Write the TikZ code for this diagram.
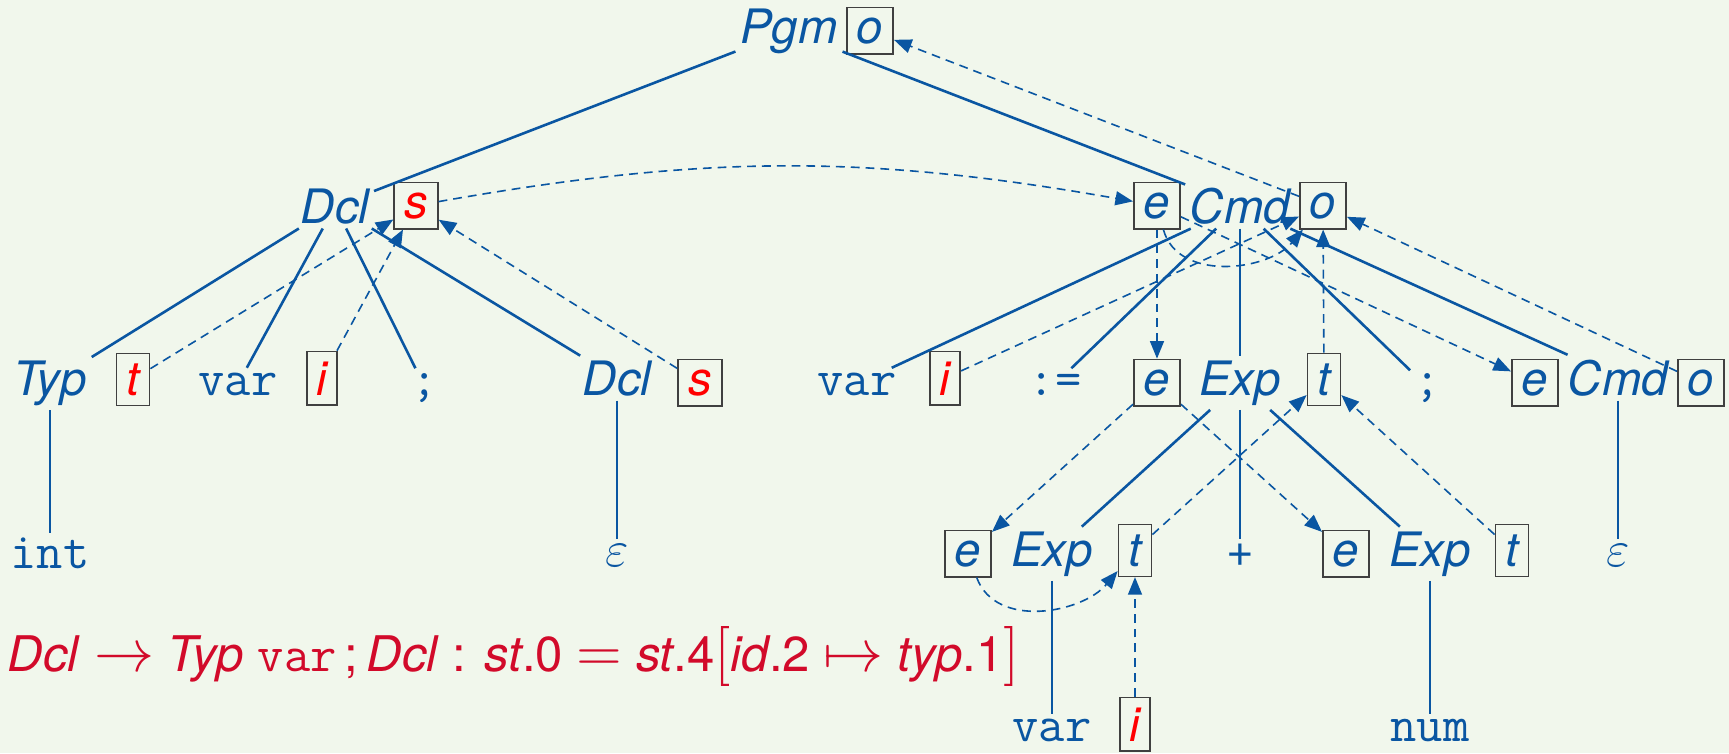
\RequirePackage{fix-cm}
\documentclass[tikz,border=0pt]{standalone}
\usepackage{fontspec}
\setmainfont{TeX Gyre Heros}[Scale=0.93]
\usepackage{tikz}
\usetikzlibrary{arrows.meta}
\definecolor{cTree}{HTML}{0A56A2}
\definecolor{cAttr}{HTML}{FF0000}
\definecolor{cRule}{HTML}{D20A2A}
\definecolor{cBack}{HTML}{F1F7EC}
\newcommand{\rsym}[1]{{\fontsize{15}{17}\selectfont$#1$}}

\begin{document}
\fontsize{12.75}{15}\selectfont
\begin{tikzpicture}[
    x=0.25pt, y=-0.25pt,
    every node/.style={anchor=base, inner sep=1pt, text=cTree},
    nterm/.style={font=\itshape},
    kw/.style={font=\ttfamily},
    attr/.style={draw=black!75, line width=0.4pt, fill=cBack,
                 inner sep=2.5pt, font=\itshape},
    rattr/.style={attr, text=cAttr},
    treeline/.style={draw=cTree, line width=0.65pt},
    depline/.style={draw=cTree, line width=0.4pt,
                    dash pattern=on 2.2pt off 1.5pt,
                    -{Triangle[length=4.4pt,width=3.5pt]}}
]
\useasboundingbox (0,0) rectangle (1729,753);
\fill[cBack] (0,0) rectangle (1729,753);

% --- root ---
\node[nterm] (pgm) at (789,43) {Pgm};
\node[attr] (pgmo) at (870,43) {o};

% --- declaration subtree ---
\node[nterm] (dcl) at (335,223) {Dcl};
\node[rattr] (dcls) at (416,218) {s};
\node[nterm] (typ) at (50,395) {Typ};
\node[rattr] (typt) at (133,395) {t};
\node[kw] (vara) at (238,395) {var};
\node[rattr] (varai) at (322,395) {i};
\node[kw] (semia) at (425,395) {;};
\node[nterm] (dclb) at (617,395) {Dcl};
\node[rattr] (dclbs) at (700,395) {s};
\node[kw] (int) at (50,568) {int};
\node (epsa) at (617,566) {$\varepsilon$};

% --- command subtree ---
\node[attr] (cmdae) at (1157,218) {e};
\node[nterm] (cmda) at (1240,223) {Cmd};
\node[attr] (cmdao) at (1323,218) {o};
\node[kw] (varb) at (857,395) {var};
\node[rattr] (varbi) at (945,395) {i};
\node[kw] (asgn) at (1055,395) {:=};
\node[attr] (expae) at (1157,395) {e};
\node[nterm] (expa) at (1240,395) {Exp};
\node[attr] (expat) at (1324,395) {t};
\node[kw] (semib) at (1428,395) {;};
\node[attr] (cmdbe) at (1535,395) {e};
\node[nterm] (cmdb) at (1618,395) {Cmd};
\node[attr] (cmdbo) at (1701,395) {o};
\node (epsb) at (1618,566) {$\varepsilon$};

% --- expression subtree ---
\node[attr] (expbe) at (968,566) {e};
\node[nterm] (expb) at (1052,566) {Exp};
\node[attr] (expbt) at (1135,566) {t};
\node (plus) at (1240,566) {+};
\node[attr] (expce) at (1346,566) {e};
\node[nterm] (expc) at (1430,566) {Exp};
\node[attr] (expct) at (1512,566) {t};
\node[kw] (varc) at (1052,741) {var};
\node[rattr] (varci) at (1135,741) {i};
\node[kw] (num) at (1430,741) {num};

% --- semantic rule ---
\node[anchor=base west, text=cRule, font=\fontsize{13.2}{16}\selectfont] (rule) at (3,671)
  {\textit{Dcl} \rsym{\rightarrow} \textit{Typ} {\fontsize{12.75}{15}\selectfont\texttt{var}}\,;\,\textit{Dcl} : \textit{st}.0 \rsym{=}
   \textit{st}.4\rsym{\bigl[}\textit{id}.2 \rsym{\mapsto} \textit{typ}.1\rsym{\bigr]}};

% --- tree edges ---
\draw[treeline] (pgm) -- (dcl);
\draw[treeline] (pgm) -- (cmda);
\draw[treeline] (dcl) -- (typ);
\draw[treeline] (dcl) -- (vara);
\draw[treeline] (dcl) -- (semia);
\draw[treeline] (dcl) -- (dclb);
\draw[treeline] (typ) -- (int);
\draw[treeline] (dclb) -- (epsa);
\draw[treeline] (cmda) -- (varb);
\draw[treeline] (cmda) -- (asgn);
\draw[treeline] (cmda) -- (expa);
\draw[treeline] (cmda) -- (semib);
\draw[treeline] (cmda) -- (cmdb);
\draw[treeline] (cmdb) -- (epsb);
\draw[treeline] (expa) -- (expb);
\draw[treeline] (expa) -- (plus);
\draw[treeline] (expa) -- (expc);
\draw[treeline] (expb) -- (varc);
\draw[treeline] (expc) -- (num);

% --- attribute dependencies ---
\draw[depline] (typt) -- (dcls);
\draw[depline] (varai) -- (dcls);
\draw[depline] (dclbs) -- (dcls);
\draw[depline] (dcls) to[bend left=10] (cmdae);
\draw[depline] (cmdao) -- (pgmo);
\draw[depline] (cmdae) -- (expae);
\draw[depline] (cmdae) -- (cmdbe);
\draw[depline] (cmdae) to[out=-75, in=-130] (cmdao);
\draw[depline] (varbi) -- (cmdao);
\draw[depline] (expat) -- (cmdao);
\draw[depline] (cmdbo) -- (cmdao);
\draw[depline] (expae) -- (expbe);
\draw[depline] (expae) -- (expce);
\draw[depline] (expbe) to[out=-70, in=-130] (expbt);
\draw[depline] (varci) -- (expbt);
\draw[depline] (expbt) -- (expat);
\draw[depline] (expct) -- (expat);

\end{tikzpicture}
\end{document}
